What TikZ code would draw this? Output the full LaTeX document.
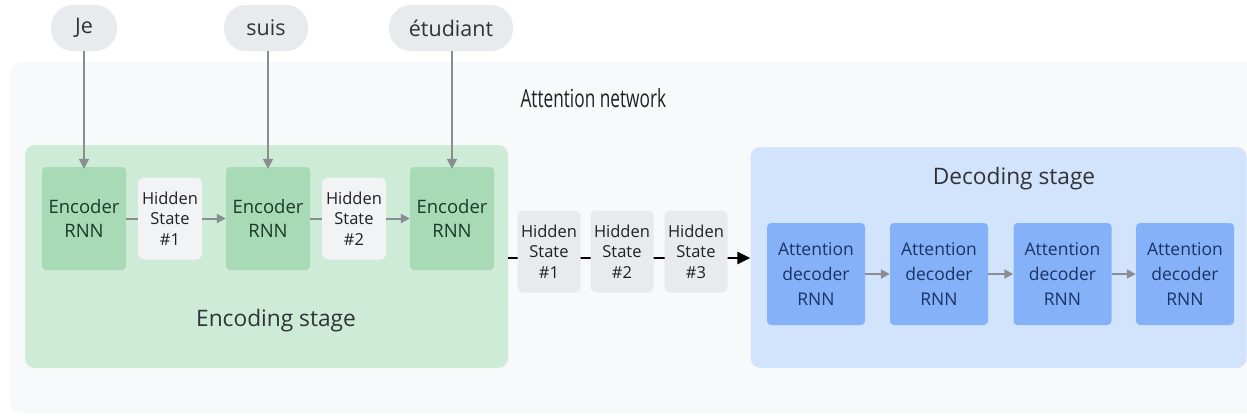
\documentclass[tikz,border=0pt]{standalone}
\usepackage{fontspec}
\setmainfont{Open Sans}
\usetikzlibrary{arrows.meta,positioning,calc}

\definecolor{canvas}{HTML}{F8F9FA}
\definecolor{encpanelfill}{HTML}{CDEBD6}
\definecolor{encfill}{HTML}{A8DAB5}
\definecolor{hsinner}{HTML}{F1F3F4}
\definecolor{hsouter}{HTML}{E8EAED}
\definecolor{decpanelfill}{HTML}{D2E3FC}
\definecolor{decfill}{HTML}{85B1F8}
\definecolor{pillfill}{HTML}{E8EAED}
\definecolor{linkgray}{HTML}{8A8E92}
\definecolor{enctext}{HTML}{1B3A26}
\definecolor{dectext}{HTML}{1A3366}
\definecolor{titletext}{HTML}{202124}
\definecolor{stagetext}{HTML}{303438}

\begin{document}
\begin{tikzpicture}[x=1pt,y=-1pt,
  panel/.style={draw=none,rounded corners=10pt,inner sep=0pt},
  pill/.style={draw=none,fill=pillfill,rounded corners=22pt,inner sep=0pt,
    minimum height=46pt,text=stagetext,font=\fontsize{21.5}{24}\selectfont},
  encbox/.style={draw=none,fill=encfill,rounded corners=4pt,inner sep=0pt,
    minimum width=84pt,minimum height=103pt,align=center,text=enctext,
    font=\fontsize{18.5}{24}\selectfont},
  hsbox/.style={draw=none,rounded corners=6pt,inner sep=0pt,
    minimum width=64pt,minimum height=82pt,align=center,text=titletext,
    font=\fontsize{16.5}{20.5}\selectfont},
  decbox/.style={draw=none,fill=decfill,rounded corners=4pt,inner sep=0pt,
    minimum width=98pt,minimum height=102pt,align=center,text=dectext,
    font=\fontsize{17.5}{25}\selectfont},
  feed/.style={draw=linkgray,line width=2pt,-{Triangle[length=10pt,width=10pt]}},
  link/.style={draw=linkgray,line width=2pt},
  linkarrow/.style={draw=linkgray,line width=2pt,-{Triangle[length=9pt,width=9pt]}},
  handoff/.style={draw=black,line width=2.5pt,-{Triangle[length=13pt,width=12pt]}}
]
\useasboundingbox (0,0) rectangle (1247,416);
\fill[white] (0,0) rectangle (1247,416);

% background of the whole network
\fill[canvas,rounded corners=12pt] (10,62) rectangle (1262,413);
\node[anchor=base west,text=titletext,font=\fontsize{25}{28}\selectfont] (title) at (517,107)
  {\scalebox{0.69}[1]{Attention network}};

% stage panels
\node[panel,fill=encpanelfill,minimum width=483pt,minimum height=223pt] (encpanel) at (266.5,256.5) {};
\node[panel,fill=decpanelfill,minimum width=496pt,minimum height=221pt] (decpanel) at (998.5,257.5) {};
\node[anchor=base,text=stagetext,font=\fontsize{22.7}{25}\selectfont] (enclabel) at (276,326) {Encoding stage};
\node[anchor=base,text=stagetext,font=\fontsize{22.7}{25}\selectfont] (declabel) at (1014,184) {Decoding stage};

% input words
\node[pill,minimum width=66pt] (w1) at (84,28) {Je};
\node[pill,minimum width=84pt] (w2) at (266,28) {suis};
\node[pill,minimum width=124pt] (w3) at (451,28) {étudiant};

% encoder chain
\node[encbox] (e1) at (84,218.5) {Encoder\\RNN};
\node[hsbox,fill=hsinner] (h1) at (170,218.5) {Hidden\\State\\\#1};
\node[encbox] (e2) at (268,218.5) {Encoder\\RNN};
\node[hsbox,fill=hsinner] (h2) at (354,218.5) {Hidden\\State\\\#2};
\node[encbox] (e3) at (452,218.5) {Encoder\\RNN};

\draw[feed] (w1.south -| e1.north) -- ([yshift=-2pt]e1.north);
\draw[feed] (w2.south -| e2.north) -- ([yshift=-2pt]e2.north);
\draw[feed] (w3.south -| e3.north) -- ([yshift=-2pt]e3.north);

\draw[link] (e1.east) -- (h1.west);
\draw[linkarrow] (h1.east) -- (e2.west);
\draw[link] (e2.east) -- (h2.west);
\draw[linkarrow] (h2.east) -- (e3.west);

% hand-off from encoder to decoder, passing behind the hidden states
\coordinate (handy) at (0,258);
\draw[handoff] (encpanel.east |- handy) -- (decpanel.west |- handy);
\node[hsbox,fill=hsouter,minimum width=63pt] (s1) at (549,251.5) {Hidden\\State\\\#1};
\node[hsbox,fill=hsouter,minimum width=63pt] (s2) at (622,251.5) {Hidden\\State\\\#2};
\node[hsbox,fill=hsouter,minimum width=63pt] (s3) at (696,251.5) {Hidden\\State\\\#3};

% decoder chain
\node[decbox] (d1) at (816,274) {Attention\\decoder\\RNN};
\node[decbox] (d2) at (939,274) {Attention\\decoder\\RNN};
\node[decbox] (d3) at (1062.5,274) {Attention\\decoder\\RNN};
\node[decbox] (d4) at (1185,274) {Attention\\decoder\\RNN};

\draw[linkarrow] (d1.east) -- (d2.west);
\draw[linkarrow] (d2.east) -- (d3.west);
\draw[linkarrow] (d3.east) -- (d4.west);
\end{tikzpicture}
\end{document}
